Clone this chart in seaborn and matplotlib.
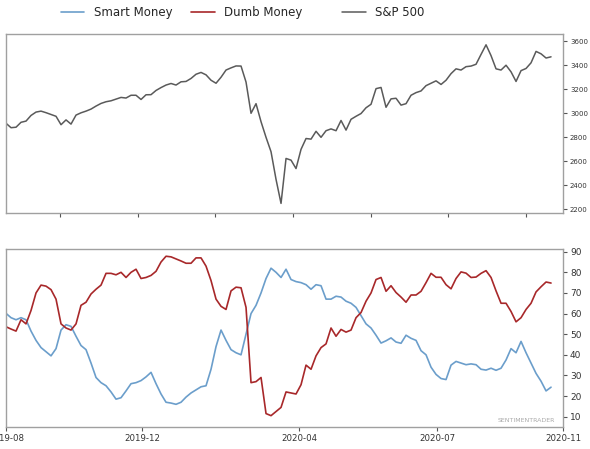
import seaborn as sns
import matplotlib.pyplot as plt
import pandas as pd
import numpy as np

# values, one point per ~5px step along the x axis
spx = [2917, 2880, 2884, 2925, 2935, 2982, 3010, 3018, 3005, 2990,
       2975, 2905, 2945, 2910, 2985, 3004, 3018, 3035, 3060, 3082,
       3096, 3104, 3118, 3132, 3127, 3150, 3150, 3115, 3154, 3155,
       3190, 3214, 3235, 3248, 3235, 3262, 3265, 3290, 3325, 3340,
       3320, 3275, 3250, 3300, 3360, 3378, 3394, 3393, 3260, 3000,
       3080, 2930, 2800, 2680, 2450, 2250, 2624, 2610, 2540, 2700,
       2790, 2785, 2850, 2800, 2855, 2870, 2855, 2940, 2860, 2950,
       2975, 2998, 3046, 3075, 3205, 3215, 3050, 3120, 3125, 3068,
       3080, 3150, 3172, 3186, 3230, 3250, 3270, 3240, 3275, 3330,
       3370, 3360, 3388, 3393, 3408, 3490, 3570, 3480, 3370, 3360,
       3400, 3345, 3265, 3355, 3373, 3420, 3515, 3495, 3460, 3470]

smart = [60.1, 58, 57, 58, 57, 51.5, 47, 43.5, 41.5, 39.5,
         43, 52, 54.6, 53.8, 49, 44.5, 42.5, 36, 29, 26.5,
         25, 22, 18.5, 19.2, 22.5, 26, 26.5, 27.5, 29.3, 31.5,
         26, 21, 17, 16.6, 16, 17, 19.5, 21.5, 23, 24.5,
         25, 33, 44, 52, 47, 42.5, 41, 40, 50, 60,
         64, 70, 77, 82, 80, 77.5, 81.5, 76.5, 75.5, 75,
         74, 71.8, 74, 73.5, 67, 67, 68.4, 68, 66, 65,
         63, 59, 55, 53, 49.5, 45.7, 46.8, 48.2, 46.2, 45.6,
         49.5, 48, 47, 42, 40, 34, 30.5, 28.5, 28, 35,
         36.8, 36, 35.2, 35.6, 35.2, 33, 32.6, 33.5, 32.5, 33.5,
         37.5, 43, 41, 46.5, 41, 36, 31, 27.2, 22.5, 24.3]

dumb = [53.6, 52.5, 51.5, 57, 55, 61.5, 70, 73.8, 73.3, 71.6,
        67, 55, 53, 52, 55, 64, 65.5, 69.5, 71.8, 73.8,
        79.5, 79.5, 78.8, 80, 77.5, 80, 81.5, 77, 77.5, 78.5,
        80.5, 85, 87.8, 87.5, 86.5, 85.5, 84.4, 84.4, 87, 87,
        83, 76, 67, 63.5, 62, 71, 72.8, 72.5, 63, 26.5,
        27, 29, 11.5, 10.5, 12.5, 14.5, 22, 21.5, 21, 25.5,
        35, 33, 39.5, 43.5, 45.3, 53, 49, 52.3, 51, 52,
        58, 60.5, 66, 70, 76.5, 77.5, 70.8, 73.5, 70.2, 68,
        65.5, 69, 69, 70.8, 75, 79.5, 77.6, 77.6, 74, 72,
        77, 80.2, 79.6, 77.5, 77.7, 79.5, 80.8, 77.5, 71, 65,
        65, 61, 56, 58, 62, 65, 70.5, 73, 75.3, 74.8]

date_labels = ['2019-08', '2019-12', '2020-04', '2020-07', '2020-11']

df = pd.DataFrame({'t': np.arange(len(spx)), 'spx': spx, 'smart': smart, 'dumb': dumb})

sns.set_style('white')
plt.rcParams['font.family'] = ['DejaVu Sans']

fig = plt.figure(figsize=(5.9, 4.49), dpi=100)
ax1 = fig.add_axes([0.0102, 0.5256, 0.9441, 0.3987])
ax2 = fig.add_axes([0.0102, 0.049, 0.9441, 0.3964])

blue = '#6b9ecb'
red = '#a8282a'
grey = '#5a5a5a'
xmax = 111.4

sns.lineplot(data=df, x='t', y='spx', ax=ax1, color=grey, linewidth=1.1, label='S&P 500', legend=False)
sns.lineplot(data=df, x='t', y='smart', ax=ax2, color=blue, linewidth=1.2, label='Smart Money', legend=False)
sns.lineplot(data=df, x='t', y='dumb', ax=ax2, color=red, linewidth=1.2, label='Dumb Money', legend=False)

for ax in (ax1, ax2):
    ax.set_xlim(0, xmax)
    ax.set_xlabel('')
    ax.set_ylabel('')
    ax.yaxis.tick_right()
    for s in ax.spines.values():
        s.set_color('#a0a0a0')
        s.set_linewidth(1.0)
    ax.tick_params(axis='both', which='both', length=3, width=0.8, color='#555555',
                   bottom=True, right=True, left=False, top=False, pad=2, labelcolor='#333333')

ax1.set_ylim(2170, 3660)
ax1.set_yticks(np.arange(2200, 3601, 200))
ax1.tick_params(axis='y', labelsize=5)
ax1.set_xticks(np.linspace(10.8, 104, 7))
ax1.set_xticklabels([])

ax2.set_ylim(5, 91.3)
ax2.set_yticks(np.arange(10, 91, 10))
ax2.tick_params(axis='y', labelsize=6.5)
ax2.set_xticks([0, 27.2, 58.6, 86.2, xmax])
ax2.set_xticklabels(date_labels, fontsize=6.2)

ax2.text(0.985, 0.02, 'SENTIMENTRADER', transform=ax2.transAxes, ha='right', va='bottom',
         fontsize=4.5, color='#aaaaaa')

h_s, l_s = ax2.get_legend_handles_labels()
h_p, l_p = ax1.get_legend_handles_labels()
fig.legend(h_s, l_s, loc='center left', bbox_to_anchor=(0.095, 0.972), ncol=2, frameon=False,
           fontsize=8.5, handlelength=2.0, columnspacing=1.6, handletextpad=0.8, borderaxespad=0)
fig.legend(h_p, l_p, loc='center left', bbox_to_anchor=(0.572, 0.972), frameon=False,
           fontsize=8.5, handlelength=2.0, handletextpad=0.8, borderaxespad=0)

fig.savefig('out.png', dpi=100)
